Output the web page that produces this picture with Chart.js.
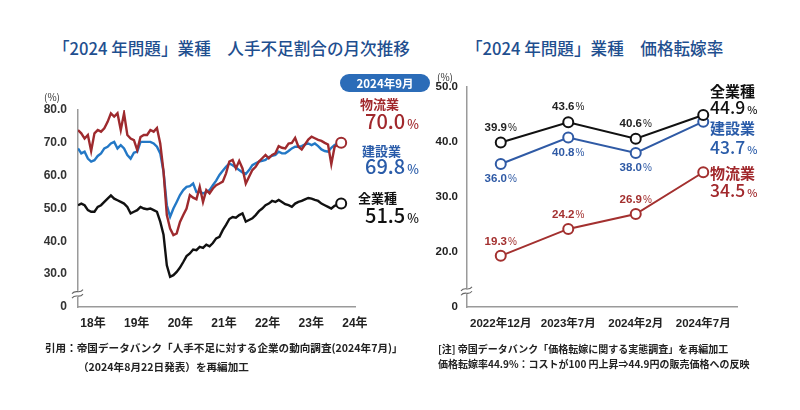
<!DOCTYPE html>
<html>
<head>
<meta charset="utf-8">
<script src="https://cdn.jsdelivr.net/npm/chart.js@4.4.1/dist/chart.umd.min.js"></script>
<style>
html,body{margin:0;padding:0;background:#fff;width:800px;height:410px;overflow:hidden;
  font-family:"Noto Sans CJK JP","Noto Sans",sans-serif;}
.abs{position:absolute;white-space:nowrap;line-height:1;}
.title{font-size:16.6px;font-weight:500;color:#1f4f8f;}
.note{font-weight:700;color:#222;}
.pct{font-size:0.62em;margin-left:2px;}
#badge{position:absolute;left:340px;top:74px;width:90px;height:18px;border-radius:9px;background:#2b6cb8;
  color:#fff;font-size:11.5px;font-weight:700;text-align:center;line-height:18px;}
canvas{position:absolute;}
</style>
</head>
<body>
<div class="abs title" style="left:53px;top:40px;">「2024 年問題」業種　人手不足割合の月次推移</div>
<div class="abs title" style="left:466px;top:40px;">「2024 年問題」業種　価格転嫁率</div>

<canvas id="left" width="400" height="290" style="left:0;top:60px;width:400px;height:290px;"></canvas>
<canvas id="right" width="380" height="290" style="left:420px;top:60px;width:380px;height:290px;"></canvas>

<div class="abs" style="left:44px;top:92px;font-size:10px;color:#333;">(%)</div>
<div class="abs" style="left:437px;top:72px;font-size:10px;color:#333;">(%)</div>

<div id="badge">2024年9月</div>
<div id="labels"></div>

<div class="abs note" style="left:45px;top:342.5px;font-size:10.6px;">引用：帝国データバンク「人手不足に対する企業の動向調査(2024年7月)」</div>
<div class="abs note" style="left:78px;top:361.5px;font-size:10.6px;">（2024年8月22日発表）を再編加工</div>
<div class="abs note" style="left:438px;top:343.7px;font-size:10px;">[注] 帝国データバンク「価格転嫁に関する実態調査」を再編加工</div>
<div class="abs note" style="left:438px;top:358.7px;font-size:10px;">価格転嫁率44.9%：コストが100 円上昇⇒44.9円の販売価格への反映</div>

<script>
// ---------- Left chart data: monthly, 2018-01 .. 2024-09 ----------
const logistics = [
  73.9,72.9,71.3,72.4,67.5,72.9,73.9,73.4,74.4,76.4,79.0,78.0,
  79.0,73.9,79.0,72.4,71.3,70.8,67.8,71.8,72.4,72.4,73.9,73.4,
  74.5,69.8,61.2,48.0,43.9,41.9,42.4,45.9,48.0,50.0,54.1,53.3,
  52.8,56.6,52.0,55.6,54.6,56.1,57.1,57.6,58.2,60.7,64.3,64.8,
  62.2,64.5,62.2,57.6,59.7,61.7,62.7,64.3,65.3,66.3,65.3,66.3,
  66.8,69.0,68.5,68.3,69.8,70.0,71.5,68.8,68.0,69.5,71.0,71.9,
  71.4,70.9,70.6,70.0,69.5,63.5,68.8,69.5,70.0
];
const construction = [
  68.3,66.8,67.3,65.2,64.3,64.7,66.0,66.8,68.3,68.8,69.8,70.3,
  68.3,69.3,68.3,66.3,65.2,67.0,67.3,70.3,70.3,70.3,70.3,69.8,
  68.8,66.8,61.2,51.0,47.5,50.0,52.0,54.1,55.6,56.6,56.8,57.6,
  55.0,55.1,54.6,55.0,55.6,57.1,58.5,60.2,61.5,62.7,63.7,63.2,
  62.5,61.7,61.0,60.5,61.7,63.2,63.8,64.3,64.5,64.8,65.7,66.0,
  66.3,67.3,66.8,66.8,67.5,68.3,68.8,68.8,69.0,69.5,69.8,69.3,
  69.8,69.0,68.0,67.5,67.3,68.5,69.3,69.8,69.8
];
const allIndustries = [
  51.0,51.5,51.0,49.5,49.0,49.0,50.5,51.0,52.0,53.0,54.0,53.0,
  52.5,52.0,51.5,50.5,48.5,49.0,49.5,50.5,50.0,49.8,50.0,49.5,
  49.0,46.0,42.0,32.7,29.2,29.7,30.7,32.0,33.7,35.5,36.3,37.5,
  37.3,38.3,38.0,39.0,38.5,39.5,40.9,41.4,43.4,45.0,46.8,47.4,
  47.2,48.0,48.5,46.0,46.5,47.0,48.0,49.2,50.0,51.0,51.5,52.3,
  52.0,52.6,52.0,51.3,51.0,50.5,51.5,52.0,52.3,52.8,53.2,53.0,
  52.6,52.3,51.5,51.0,50.5,50.0,50.8,51.2,51.5
];
const yearLabels = ['18年','19年','20年','21年','22年','23年','24年'];
const leftYTicks = [20,30,40,50,60,70,80];   // 20 is shown as "0" (axis break)

// ---------- Right chart data ----------
const surveys = ['2022年12月','2023年7月','2024年2月','2024年7月'];
const passAll = [39.9,43.6,40.6,44.9];
const passConstruction = [36.0,40.8,38.0,43.7];
const passLogistics = [19.3,24.2,26.9,34.5];
const rightYTicks = [10,20,30,40,50];         // 10 is shown as "0" (axis break)

// ---------- styling constants ----------
const RED = '#9e2a2e', BLUE_L = '#2378c6', BLACK = '#111111';
const BLUE_R = '#2f5aa5', RED_R = '#a3302f';
const RED_TXT = '#a1282c', BLUE_TXT = '#2a5ca9';
const AXIS = '#9a9a9a';
const TICK_FONT = "'Liberation Sans','Noto Sans CJK JP',sans-serif";
const yearTickStart = 4.56, yearTickStep = 13.27, leftXMax = 84.2;

const breakPlugin = {
  id: 'axisBreak',
  afterDraw(chart, args, opts) {
    const ctx = chart.ctx, y = chart.scales.y.getPixelForValue(opts.value), x = chart.chartArea.left;
    ctx.save();
    ctx.fillStyle = '#fff';
    ctx.fillRect(x - 2, y - 3, 4, 6);
    ctx.strokeStyle = '#666';
    ctx.lineWidth = 1.1;
    for (const dy of [-2.2, 2.2]) {
      ctx.beginPath();
      ctx.moveTo(x - 6, y + dy + 2);
      ctx.bezierCurveTo(x - 2, y + dy - 3, x + 1, y + dy + 3, x + 5, y + dy - 2);
      ctx.stroke();
    }
    ctx.restore();
  }
};

function fixedAxis(size, isX) {
  return function (s) {
    if (isX) { s.height = size; s.paddingLeft = 0; s.paddingRight = 0; }
    else { s.width = size; s.paddingTop = 0; s.paddingBottom = 0; }
  };
}

const lastIdx = logistics.length - 1;
function monthSeries(arr) { return arr.map((v, i) => ({ x: i, y: v })); }
function endPoint(r) { return ctx => (ctx.dataIndex === lastIdx ? r : 0); }

new Chart(document.getElementById('left'), {
  type: 'line',
  data: {
    datasets: [
      { label: '物流業', data: monthSeries(logistics), borderColor: RED, borderWidth: 2.4,
        pointRadius: endPoint(5), pointBackgroundColor: '#fff', pointBorderColor: RED, pointBorderWidth: 2 },
      { label: '建設業', data: monthSeries(construction), borderColor: BLUE_L, borderWidth: 2.4,
        pointRadius: endPoint(0), pointBackgroundColor: '#fff', pointBorderColor: BLUE_L, pointBorderWidth: 2 },
      { label: '全業種', data: monthSeries(allIndustries), borderColor: BLACK, borderWidth: 2.4,
        pointRadius: endPoint(5), pointBackgroundColor: '#fff', pointBorderColor: BLACK, pointBorderWidth: 2 }
    ]
  },
  options: {
    responsive: false, animation: false, events: [],
    layout: { padding: { left: 0, right: 45, top: 50, bottom: 0 } },
    elements: { line: { tension: 0 } },
    plugins: { legend: { display: false }, tooltip: { enabled: false }, axisBreak: { value: 24 } },
    scales: {
      x: {
        type: 'linear', min: 0, max: leftXMax,
        grid: { display: false, drawTicks: false },
        border: { display: true, color: AXIS, width: 1.5 },
        afterBuildTicks: s => { s.ticks = yearLabels.map((_, k) => ({ value: yearTickStart + k * yearTickStep })); },
        ticks: { autoSkip: false, maxRotation: 0, padding: 9, color: '#222',
          font: { family: TICK_FONT, size: 12, weight: 'bold' },
          callback: (v, i) => yearLabels[i] },
        afterFit: fixedAxis(43, true)
      },
      y: {
        min: 20, max: 80,
        grid: { display: false, drawTicks: false },
        border: { display: true, color: AXIS, width: 1.5 },
        afterBuildTicks: s => { s.ticks = leftYTicks.map(v => ({ value: v })); },
        ticks: { padding: 11, color: '#333', font: { family: TICK_FONT, size: 12, weight: 'bold' },
          callback: v => (v === leftYTicks[0] ? '0' : v.toFixed(1)) },
        afterFit: fixedAxis(78, false)
      }
    }
  },
  plugins: [breakPlugin]
});

const labelPlugin = {
  id: 'pointLabels',
  afterDatasetsDraw(chart) {
    const ctx = chart.ctx;
    chart.data.datasets.forEach((ds, di) => {
      const meta = chart.getDatasetMeta(di);
      ds.data.forEach((v, j) => {
        if (j === ds.data.length - 1) return;
        const pt = meta.data[j];
        const num = v.toFixed(1);
        ctx.save();
        ctx.fillStyle = ds.labelColor;
        ctx.textBaseline = 'middle';
        ctx.font = "bold 11.5px " + TICK_FONT;
        const w1 = ctx.measureText(num).width;
        ctx.font = "10px " + TICK_FONT;
        const w2 = ctx.measureText('%').width;
        const x0 = pt.x - (w1 + w2 + 1) / 2;
        const y = pt.y + ds.labelOffset;
        ctx.font = "bold 11.5px " + TICK_FONT;
        ctx.fillText(num, x0, y);
        ctx.font = "10px " + TICK_FONT;
        ctx.fillText('%', x0 + w1 + 1, y + 0.5);
        ctx.restore();
      });
    });
  }
};

new Chart(document.getElementById('right'), {
  type: 'line',
  data: {
    labels: surveys,
    datasets: [
      { label: '全業種', data: passAll, borderColor: BLACK, labelColor: '#222', labelOffset: -15 },
      { label: '建設業', data: passConstruction, borderColor: BLUE_R, labelColor: BLUE_R, labelOffset: 15 },
      { label: '物流業', data: passLogistics, borderColor: RED_R, labelColor: RED_R, labelOffset: -14 }
    ].map(d => Object.assign(d, { borderWidth: 2, pointRadius: 5, pointBackgroundColor: '#fff',
      pointBorderColor: d.borderColor, pointBorderWidth: 2, tension: 0 }))
  },
  options: {
    responsive: false, animation: false, events: [],
    layout: { padding: { left: 0, right: 63, top: 27, bottom: 0 } },
    plugins: { legend: { display: false }, tooltip: { enabled: false }, axisBreak: { value: 12.9 } },
    scales: {
      x: {
        offset: true,
        grid: { display: false, drawTicks: false },
        border: { display: true, color: AXIS, width: 1.5 },
        ticks: { autoSkip: false, maxRotation: 0, padding: 10, color: '#222',
          font: { family: TICK_FONT, size: 11.5, weight: 'bold' } },
        afterFit: fixedAxis(43, true)
      },
      y: {
        min: 10, max: 50,
        grid: { display: false, drawTicks: false },
        border: { display: true, color: AXIS, width: 1.5 },
        afterBuildTicks: s => { s.ticks = rightYTicks.map(v => ({ value: v })); },
        ticks: { padding: 9, color: '#222', font: { family: TICK_FONT, size: 11.5, weight: 'bold' },
          callback: v => (v === rightYTicks[0] ? '0' : v.toFixed(1)) },
        afterFit: fixedAxis(47, false)
      }
    }
  },
  plugins: [breakPlugin, labelPlugin]
});

// ---------- end-of-series labels (text from the data arrays) ----------
function last(a) { return a[a.length - 1].toFixed(1); }
const endLabels = [
  // left chart
  { name: '物流業', v: last(logistics), color: RED_TXT, x: 360, nameTop: 96.5, valTop: 111, nameSize: 13, valSize: 20, valX: 365 },
  { name: '建設業', v: last(construction), color: BLUE_TXT, x: 362, nameTop: 143.5, valTop: 156, nameSize: 13, valSize: 20, valX: 365 },
  { name: '全業種', v: last(allIndustries), color: '#111', x: 358, nameTop: 190.5, valTop: 205, nameSize: 13, valSize: 20, valX: 365 },
  // right chart
  { name: '全業種', v: last(passAll), color: '#111', x: 710, nameTop: 83, valTop: 98, nameSize: 15, valSize: 17.5, valX: 710 },
  { name: '建設業', v: last(passConstruction), color: BLUE_TXT, x: 710, nameTop: 120, valTop: 138, nameSize: 15, valSize: 17.5, valX: 710 },
  { name: '物流業', v: last(passLogistics), color: RED_TXT, x: 710, nameTop: 165, valTop: 181, nameSize: 15, valSize: 17.5, valX: 710 }
];
const holder = document.getElementById('labels');
endLabels.forEach(l => {
  const n = document.createElement('div');
  n.className = 'abs';
  n.style.cssText = `left:${l.x}px;top:${l.nameTop}px;font-size:${l.nameSize}px;font-weight:700;color:${l.color};`;
  n.textContent = l.name;
  holder.appendChild(n);
  const v = document.createElement('div');
  v.className = 'abs';
  v.style.cssText = `left:${l.valX}px;top:${l.valTop}px;font-size:${l.valSize}px;font-weight:500;color:${l.color};`;
  v.innerHTML = `${l.v}<span class="pct">%</span>`;
  holder.appendChild(v);
});
</script>
</body>
</html>
